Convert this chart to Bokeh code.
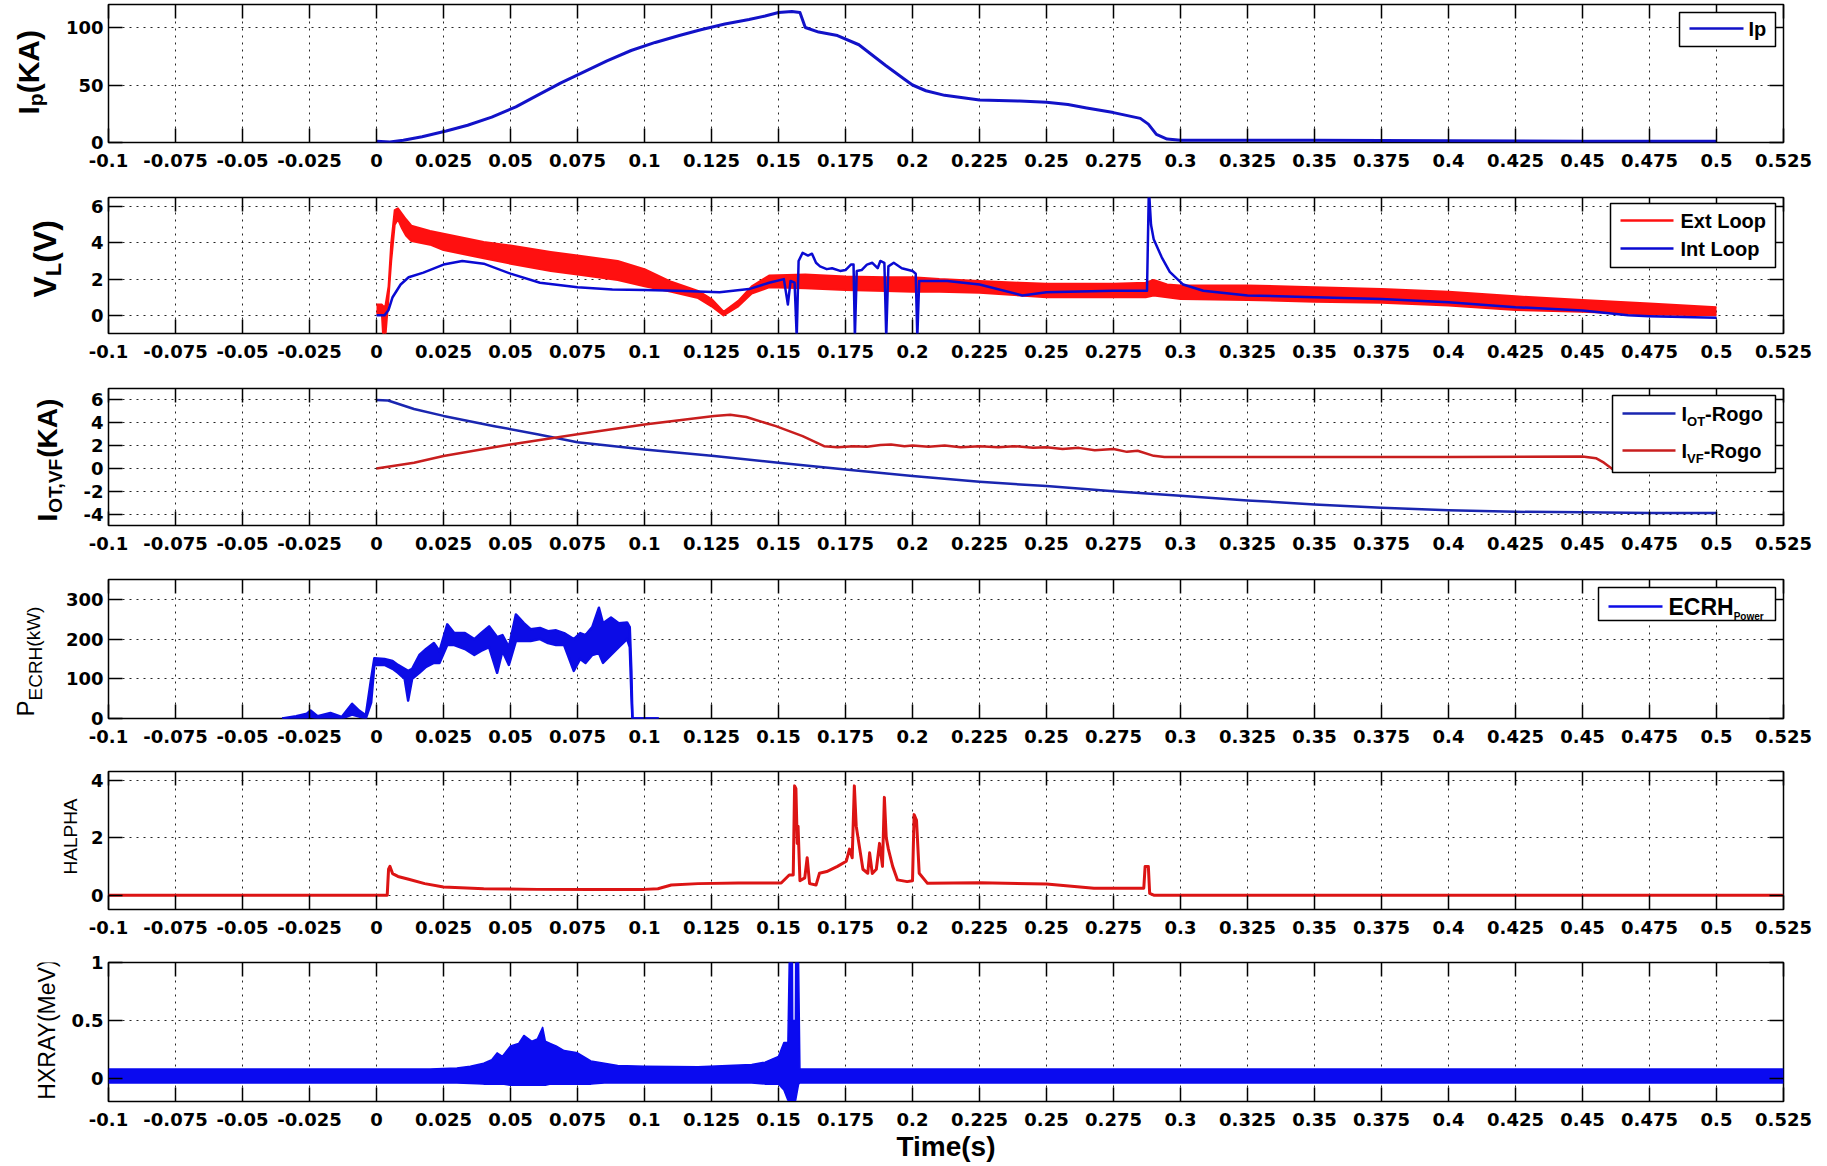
from math import pi

from bokeh.core.properties import value
from bokeh.embed import file_html
from bokeh.layouts import column, row
from bokeh.models import BoxAnnotation, FixedTicker, Grid, Label, LinearAxis, Range1d
from bokeh.plotting import figure
from bokeh.resources import INLINE

# ---------------------------------------------------------------- data
x_tick_labels = ["-0.1", "-0.075", "-0.05", "-0.025", "0", "0.025", "0.05", "0.075",
                 "0.1", "0.125", "0.15", "0.175", "0.2", "0.225", "0.25", "0.275",
                 "0.3", "0.325", "0.35", "0.375", "0.4", "0.425", "0.45", "0.475",
                 "0.5", "0.525"]

# plasma current Ip (kA)
ip_t = [0.000, 0.005, 0.010, 0.017, 0.026, 0.034, 0.043, 0.052, 0.060, 0.069,
        0.078, 0.086, 0.095, 0.104, 0.113, 0.121, 0.130, 0.139, 0.145, 0.150,
        0.155, 0.158, 0.160, 0.165, 0.172, 0.180, 0.190, 0.197, 0.200, 0.205,
        0.212, 0.225, 0.240, 0.250, 0.258, 0.265, 0.275, 0.285, 0.288, 0.291,
        0.295, 0.300, 0.350, 0.400, 0.450, 0.500]
ip_ka = [1, 0.5, 2, 5, 10, 15, 22, 31, 41, 52,
         62, 71, 80, 87, 93, 98, 103, 107, 110, 113,
         114, 113, 100, 96, 93, 85, 67, 55, 50, 45,
         41, 37, 36, 35, 33, 30, 26, 21, 16, 7,
         3, 2, 2, 1.5, 1, 1]
ip_ticks = ["0", "50", "100"]

# loop voltage, external loop: noisy band given by its lower/upper envelope (V)
ext_t = [0.000, 0.002, 0.0025, 0.0033, 0.0045, 0.0055, 0.0068, 0.008, 0.0095, 0.011,
         0.013, 0.020, 0.025, 0.040, 0.050, 0.065, 0.075, 0.090, 0.100, 0.110,
         0.120, 0.125, 0.1295, 0.135, 0.140, 0.1465, 0.160, 0.175, 0.190, 0.200,
         0.210, 0.225, 0.240, 0.250, 0.275, 0.287, 0.290, 0.295, 0.300, 0.325,
         0.350, 0.375, 0.400, 0.425, 0.450, 0.475, 0.500]
ext_lo = [0.1, 0.1, -1.2, -1.2, 1.0, 3.0, 5.0, 5.3, 4.8, 4.4,
          4.1, 3.9, 3.6, 3.15, 2.85, 2.45, 2.25, 1.95, 1.6, 1.3,
          0.95, 0.5, 0.0, 0.5, 1.2, 1.55, 1.5, 1.4, 1.35, 1.3,
          1.3, 1.25, 1.1, 1.0, 1.0, 1.0, 1.1, 1.0, 0.9, 0.85,
          0.75, 0.7, 0.55, 0.3, 0.2, 0.05, 0.0]
ext_hi = [0.6, 0.6, 0.5, 0.5, 1.6, 4.0, 5.8, 5.9, 5.6, 5.3,
          4.95, 4.65, 4.5, 4.05, 3.85, 3.5, 3.3, 3.0, 2.55, 1.85,
          1.35, 0.9, 0.2, 0.8, 1.6, 2.2, 2.25, 2.15, 2.1, 2.1,
          2.0, 1.9, 1.8, 1.75, 1.75, 1.8, 1.95, 1.7, 1.65, 1.65,
          1.55, 1.45, 1.3, 1.05, 0.85, 0.65, 0.45]

# loop voltage, internal loop (V)
int_t = [0.000, 0.003, 0.0045, 0.006, 0.009, 0.012, 0.0175, 0.025, 0.032, 0.040,
         0.050, 0.061, 0.075, 0.088, 0.100, 0.112, 0.128, 0.139, 0.1465, 0.152,
         0.1535, 0.1545, 0.156, 0.1568, 0.1575, 0.159, 0.161, 0.1625, 0.164, 0.1655,
         0.168, 0.170, 0.173, 0.175, 0.177, 0.178, 0.1785, 0.1792, 0.181, 0.183,
         0.185, 0.187, 0.188, 0.1895, 0.1902, 0.191, 0.193, 0.196, 0.200, 0.2012,
         0.2018, 0.2025, 0.213, 0.225, 0.241, 0.250, 0.275, 0.2875, 0.2882, 0.289,
         0.290, 0.293, 0.296, 0.301, 0.3085, 0.325, 0.350, 0.375, 0.400, 0.425,
         0.450, 0.467, 0.475, 0.500]
int_v = [0.0, 0.0, 0.3, 1.0, 1.7, 2.1, 2.36, 2.8, 3.0, 2.85,
         2.3, 1.8, 1.55, 1.42, 1.4, 1.36, 1.27, 1.45, 1.8, 2.0,
         0.6, 1.9, 1.8, -1.2, 3.0, 3.45, 3.3, 3.4, 2.9, 2.7,
         2.55, 2.6, 2.45, 2.5, 2.8, 2.8, -1.2, 2.45, 2.5, 2.8,
         2.9, 2.6, 3.0, 2.9, -1.2, 2.7, 2.9, 2.6, 2.45, 2.3,
         -1.2, 1.9, 1.9, 1.7, 1.1, 1.27, 1.36, 1.36, 7.0, 5.0,
         4.2, 3.2, 2.4, 1.7, 1.36, 1.1, 1.0, 0.9, 0.73, 0.45,
         0.27, 0.0, -0.05, -0.13]
vl_ticks = ["0", "2", "4", "6"]

# OT / VF coil currents from Rogowski coils (kA)
iot_t = [0.000, 0.0043, 0.014, 0.025, 0.044, 0.060, 0.075, 0.100, 0.126, 0.150,
         0.175, 0.200, 0.225, 0.250, 0.275, 0.300, 0.325, 0.350, 0.375, 0.400,
         0.425, 0.450, 0.475, 0.500]
iot_ka = [6.0, 5.95, 5.2, 4.6, 3.7, 3.0, 2.3, 1.65, 1.08, 0.5,
          -0.1, -0.67, -1.17, -1.55, -2.0, -2.4, -2.8, -3.15, -3.45, -3.67,
          -3.8, -3.85, -3.9, -3.9]
ivf_t = [0.000, 0.014, 0.025, 0.050, 0.075, 0.100, 0.126, 0.132, 0.138, 0.149,
         0.159, 0.167, 0.172, 0.178, 0.183, 0.188, 0.192, 0.197, 0.200, 0.206,
         0.212, 0.218, 0.225, 0.232, 0.238, 0.245, 0.250, 0.256, 0.262, 0.268,
         0.275, 0.280, 0.284, 0.290, 0.294, 0.323, 0.400, 0.450, 0.455, 0.458,
         0.462]
ivf_ka = [0.0, 0.5, 1.08, 2.1, 3.0, 3.85, 4.6, 4.7, 4.5, 3.7,
          2.83, 1.95, 1.85, 1.95, 1.9, 2.05, 2.1, 1.95, 2.0, 1.9,
          2.0, 1.85, 1.95, 1.85, 1.95, 1.8, 1.85, 1.7, 1.8, 1.6,
          1.7, 1.45, 1.55, 1.1, 1.0, 1.0, 1.0, 1.05, 0.9, 0.5,
          -0.2]
coil_ticks = ["-4", "-2", "0", "2", "4", "6"]

# ECRH power (kW): noisy trace given by its lower/upper envelope
ecrh_t = [-0.0352, -0.030, -0.026, -0.0246, -0.022, -0.0172, -0.013, -0.0091, -0.0065, -0.004,
          -0.002, -0.0008, 0.003, 0.006, 0.008, 0.0105, 0.0118, 0.0133, 0.016, 0.0185,
          0.0214, 0.0235, 0.0264, 0.029, 0.033, 0.0365, 0.039, 0.042, 0.045, 0.047,
          0.0494, 0.052, 0.055, 0.0575, 0.061, 0.064, 0.067, 0.070, 0.0736, 0.076,
          0.078, 0.0805, 0.083, 0.0845, 0.0875, 0.0904, 0.0935, 0.0945, 0.0951, 0.0955,
          0.1053]
ecrh_lo = [0, 0, 2, 5, 0, 2, 0, 10, 5, 0,
           40, 135, 135, 125, 115, 100, 45, 100, 115, 130,
           140, 140, 185, 185, 175, 160, 170, 180, 115, 170,
           135, 195, 195, 195, 200, 190, 185, 185, 120, 150,
           140, 160, 165, 140, 160, 180, 200, 180, 60, 0,
           0]
ecrh_hi = [0, 6, 12, 20, 6, 14, 4, 37, 20, 8,
           100, 152, 150, 145, 135, 125, 120, 125, 160, 175,
           190, 170, 237, 215, 215, 200, 215, 232, 205, 210,
           180, 262, 240, 225, 228, 220, 222, 215, 200, 215,
           210, 230, 279, 240, 254, 240, 242, 230, 120, 0,
           0]
ecrh_ticks = ["0", "100", "200", "300"]

# H-alpha emission (a.u.)
ha_t = [-0.100, 0.0040, 0.0045, 0.0050, 0.0060, 0.0080, 0.0120, 0.0180, 0.0250, 0.0400,
        0.0600, 0.0800, 0.1000, 0.1050, 0.1100, 0.1200, 0.1350, 0.1510, 0.1540, 0.1555,
        0.1560, 0.1565, 0.1570, 0.1573, 0.1580, 0.1598, 0.1607, 0.1616, 0.1640, 0.1653,
        0.1680, 0.1720, 0.1753, 0.1765, 0.1775, 0.1783, 0.1790, 0.1800, 0.1815, 0.1833,
        0.1840, 0.1850, 0.1865, 0.1877, 0.1888, 0.1895, 0.1902, 0.1910, 0.1926, 0.1944,
        0.1980, 0.2000, 0.2006, 0.2015, 0.2025, 0.2056, 0.2250, 0.2500, 0.2677, 0.2863,
        0.2868, 0.2880, 0.2885, 0.2900, 0.5250]
ha_v = [0.0, 0.0, 0.9, 1.0, 0.75, 0.65, 0.55, 0.4, 0.28, 0.22,
        0.2, 0.2, 0.2, 0.22, 0.35, 0.4, 0.42, 0.42, 0.7, 0.7,
        3.8, 3.7, 1.8, 2.4, 0.5, 0.6, 1.3, 0.4, 0.35, 0.76,
        0.82, 1.0, 1.18, 1.6, 1.3, 3.8, 2.4, 1.8, 0.9, 0.76,
        1.47, 0.75, 0.9, 1.8, 1.0, 3.4, 2.0, 1.6, 1.0, 0.53,
        0.47, 0.5, 2.8, 2.6, 0.76, 0.41, 0.43, 0.39, 0.24, 0.24,
        1.0, 1.0, 0.06, 0.0, 0.0]
ha_ticks = ["0", "2", "4"]

# hard X-ray signal: noisy band given by its lower/upper envelope (MeV)
hx_t = [-0.100, 0.020, 0.030, 0.035, 0.040, 0.043, 0.045, 0.047, 0.050, 0.053,
        0.055, 0.058, 0.060, 0.062, 0.063, 0.065, 0.067, 0.070, 0.075, 0.080,
        0.085, 0.090, 0.100, 0.120, 0.140, 0.145, 0.150, 0.152, 0.1535, 0.1540,
        0.1552, 0.1553, 0.1563, 0.1564, 0.1575, 0.1580, 0.160, 0.525]
hx_hi = [0.08, 0.08, 0.09, 0.105, 0.13, 0.16, 0.22, 0.19, 0.28, 0.30,
         0.37, 0.32, 0.34, 0.44, 0.32, 0.30, 0.28, 0.24, 0.22, 0.15,
         0.13, 0.11, 0.105, 0.10, 0.12, 0.14, 0.19, 0.31, 0.31, 1.0,
         1.0, 0.5, 0.5, 1.0, 1.0, 0.08, 0.08, 0.08]
hx_lo = [-0.04, -0.04, -0.04, -0.045, -0.05, -0.05, -0.05, -0.05, -0.06, -0.06,
         -0.06, -0.06, -0.06, -0.06, -0.06, -0.05, -0.05, -0.05, -0.05, -0.05,
         -0.04, -0.04, -0.04, -0.04, -0.04, -0.05, -0.05, -0.10, -0.19, -0.19,
         -0.19, -0.19, -0.19, -0.19, -0.05, -0.04, -0.04, -0.04]
hx_ticks = ["0", "0.5", "1"]

# ---------------------------------------------------------------- styling helpers
TEXT_FONT = "Liberation Sans"
TICK_FONT = "DejaVu Sans"
PAGE_W = 1827
FRAME_LEFT, BORDER_R = 108, 44
MID = 0.35  # distance from baseline to the middle of the em box, in em

# advance widths (1/1000 em) of the Arial-metric font, for placing rich labels
W_BOLD = {"I": 278, "p": 611, "(": 333, "K": 722, "A": 722, ")": 333, "V": 667, "L": 611,
          "O": 778, "T": 611, ",": 278, "F": 611, "-": 333, "R": 722, "o": 611, "g": 611,
          "E": 667, "x": 556, "t": 333, " ": 278, "n": 611, "C": 722, "H": 722, "P": 667,
          "w": 778, "e": 556, "r": 389, "i": 278, "m": 889, "s": 556}
W_REG = {"P": 667, "E": 667, "C": 722, "R": 722, "H": 722, "(": 333, "k": 500, "W": 944,
         ")": 333, "A": 667, "L": 556, "X": 667, "Y": 667, "M": 833, "e": 556, "V": 667,
         " ": 278}


def run_width(text, size, bold):
    table = W_BOLD if bold else W_REG
    return sum(table.get(c, 600) for c in text) * size / 1000.0


def tick_axis(ticks, labels, show, standoff=8):
    ax = LinearAxis(ticker=FixedTicker(ticks=ticks))
    ax.axis_line_color = None
    ax.major_tick_in = 14
    ax.major_tick_out = 0
    ax.major_tick_line_color = "black"
    ax.major_tick_line_width = 1.5
    ax.minor_tick_line_color = None
    if show:
        ax.major_label_overrides = dict(zip(ticks, labels))
        ax.major_label_text_font = TICK_FONT
        ax.major_label_text_font_size = "18px"
        ax.major_label_text_font_style = "bold"
        ax.major_label_text_color = "black"
        ax.major_label_standoff = standoff
    else:
        ax.major_label_text_font_size = "1px"
        ax.major_label_text_alpha = 0
        ax.major_label_standoff = 0
    return ax


def dotted_grid(dim, ticks):
    g = Grid(dimension=dim, ticker=FixedTicker(ticks=ticks))
    g.grid_line_color = "black"
    g.grid_line_dash = "2 5"
    g.grid_line_width = 1
    g.grid_line_alpha = 0.85
    return g


def label_strip(width, height, top, bottom, pieces, baseline_x, start_y):
    """Narrow figure left of a panel holding its rotated axis title.

    The strip has the same top/bottom borders as its panel, so its frame
    spans the panel's frame; data units are pixels measured from the frame's
    bottom-left corner.  pieces are (text, size, bold, drop) runs written
    bottom-to-top; drop > 0 moves a run to the right (subscript).  Each run
    is anchored at its own centre.
    """
    frame_h = height - top - bottom
    s = figure(width=width, height=height, output_backend="svg", toolbar_location=None,
               x_range=Range1d(0, width), y_range=Range1d(0, frame_h),
               x_axis_type=None, y_axis_type=None,
               min_border_left=0, min_border_right=0,
               min_border_top=top, min_border_bottom=bottom)
    s.outline_line_color = None
    s.background_fill_color = "white"
    s.border_fill_color = "white"
    pos = 0.0
    for text, size, bold, drop in pieces:
        w = run_width(text, size, bold)
        s.text(x=[baseline_x + drop - MID * size], y=[start_y + pos + w / 2], text=[text],
               angle=pi / 2, text_font=value(TEXT_FONT), text_font_size=value(f"{size}px"),
               text_font_style=value("bold" if bold else "normal"), text_color="black",
               text_align="center", text_baseline="middle")
        pos += w
    return s


def panel(width, height, left, top, bottom, y_start, y_end, y_labels):
    p = figure(width=width, height=height, output_backend="svg", toolbar_location=None,
               x_range=Range1d(-0.1, 0.525), y_range=Range1d(y_start, y_end),
               x_axis_type=None, y_axis_type=None,
               min_border_left=left, min_border_right=BORDER_R,
               min_border_top=top, min_border_bottom=bottom)
    p.background_fill_color = "white"
    p.border_fill_color = "white"
    p.outline_line_color = "black"
    p.outline_line_width = 1.5
    p.outline_line_alpha = 1.0
    xt = [float(s) for s in x_tick_labels]
    yt = [float(s) for s in y_labels]
    p.add_layout(tick_axis(xt, x_tick_labels, True, 11), "below")
    p.add_layout(tick_axis(xt, x_tick_labels, False), "above")
    p.add_layout(tick_axis(yt, y_labels, True, 5), "left")
    p.add_layout(tick_axis(yt, y_labels, False), "right")
    p.add_layout(dotted_grid(0, xt))
    p.add_layout(dotted_grid(1, yt))
    return p


def legend(p, box, swatch_x, items, text_x):
    left, right, bottom, top = box
    p.add_layout(BoxAnnotation(left=left, right=right, bottom=bottom, top=top,
                               left_units="screen", right_units="screen",
                               bottom_units="screen", top_units="screen",
                               fill_color="white", fill_alpha=1.0,
                               line_color="black", line_width=1.5, line_alpha=1.0))
    for y, color, pieces in items:
        p.add_layout(BoxAnnotation(left=swatch_x[0], right=swatch_x[1],
                                   bottom=y - 1.3, top=y + 1.3,
                                   left_units="screen", right_units="screen",
                                   bottom_units="screen", top_units="screen",
                                   fill_color=color, fill_alpha=1.0, line_color=None))
        base = y - 0.36 * pieces[0][1]
        pos = 0.0
        for text, size, bold, drop in pieces:
            p.add_layout(Label(x=text_x + pos, y=base - drop + MID * size,
                               x_units="screen", y_units="screen", text=text,
                               text_font=TEXT_FONT, text_font_size=f"{size}px",
                               text_font_style="bold" if bold else "normal",
                               text_color="black", text_align="left",
                               text_baseline="middle"))
            pos += run_width(text, size, bold)


def build_row(row_top, strip_w, height, top, bottom, y_start, y_end, y_labels,
              title, title_x, title_start):
    """title_x: baseline x of the rotated title; title_start: page y where it begins."""
    frame_bottom = row_top + height - bottom
    strip = label_strip(strip_w, height, top, bottom, title, title_x,
                        frame_bottom - title_start)
    p = panel(PAGE_W - strip_w, height, FRAME_LEFT - strip_w, top, bottom,
              y_start, y_end, y_labels)
    return strip, p


IP_BLUE = "#1212c8"
VL_RED = "#ff1010"
VL_BLUE = "#0a0ad2"
OT_BLUE = "#1a26b0"
VF_RED = "#c81e1e"
ECRH_BLUE = "#0c0ce6"
HA_RED = "#dc1414"
HX_BLUE = "#0a0af0"

# ---------------------------------------------------------------- panel 1: Ip
s1, p1 = build_row(0, 58, 190, 4, 48, 0, 120, ip_ticks,
                   [("I", 30, True, 0), ("p", 21, True, 4), ("(KA)", 30, True, 0)], 38, 114)
p1.line(ip_t, ip_ka, line_color=IP_BLUE, line_width=3, line_join="round")
legend(p1, (1571, 1667, 96, 130), (1581, 1635),
       [(114, IP_BLUE, [("Ip", 20, True, 0)])], 1640)

# ---------------------------------------------------------------- panel 2: loop voltage
s2, p2 = build_row(190, 82, 191, 7, 48, -1, 6.5, vl_ticks,
                   [("V", 32, True, 0), ("L", 22, True, 5), ("(V)", 32, True, 0)], 56, 297)
p2.varea(x=ext_t, y1=ext_lo, y2=ext_hi, fill_color=VL_RED)
p2.line(ext_t, ext_lo, line_color=VL_RED, line_width=2, line_join="round")
p2.line(ext_t, ext_hi, line_color=VL_RED, line_width=2, line_join="round")
p2.line(int_t, int_v, line_color=VL_BLUE, line_width=2.5, line_join="round")
legend(p2, (1502, 1667, 66, 130), (1512, 1565),
       [(113, VL_RED, [("Ext Loop", 20, True, 0)]),
        (85, VL_BLUE, [("Int Loop", 20, True, 0)])], 1572)

# ---------------------------------------------------------------- panel 3: coil currents
s3, p3 = build_row(381, 76, 191, 7, 47, -5, 7, coil_ticks,
                   [("I", 28, True, 0), ("OT,VF", 19, True, 5), ("(KA)", 28, True, 0)], 57, 521)
p3.line(iot_t, iot_ka, line_color=OT_BLUE, line_width=2.5, line_join="round")
p3.line(ivf_t, ivf_ka, line_color=VF_RED, line_width=2.5, line_join="round")
legend(p3, (1504, 1667, 53, 130), (1514, 1567),
       [(112, OT_BLUE, [("I", 20, True, 0), ("OT", 13, True, 5), ("-Rogo", 20, True, 0)]),
        (75, VF_RED, [("I", 20, True, 0), ("VF", 13, True, 5), ("-Rogo", 20, True, 0)])],
       1573)

# ---------------------------------------------------------------- panel 4: ECRH power
s4, p4 = build_row(572, 58, 192, 7, 46, 0, 350, ecrh_ticks,
                   [("P", 24, False, 0), ("ECRH", 19, False, 9), (" (kW)", 19, False, 7)], 33, 716)
p4.varea(x=ecrh_t, y1=ecrh_lo, y2=ecrh_hi, fill_color=ECRH_BLUE)
p4.line(ecrh_t, ecrh_lo, line_color=ECRH_BLUE, line_width=2.5, line_join="round")
p4.line(ecrh_t, ecrh_hi, line_color=ECRH_BLUE, line_width=2.5, line_join="round")
legend(p4, (1490, 1667, 98, 131), (1500, 1554),
       [(112, ECRH_BLUE, [("ECRH", 23, True, 0), ("Power", 10, True, 5)])], 1560)

# ---------------------------------------------------------------- panel 5: H-alpha
s5, p5 = build_row(764, 84, 187, 7, 42, -0.5, 4.3, ha_ticks,
                   [("HALPHA", 19, False, 0)], 77, 874)
p5.line(ha_t, ha_v, line_color=HA_RED, line_width=3, line_join="round")

# ---------------------------------------------------------------- panel 6: hard X-rays
s6, p6 = build_row(951, 64, 215, 11, 65, -0.2, 1, hx_ticks,
                   [("HXRAY(MeV)", 23, False, 0)], 55, 1100)
p6.varea(x=hx_t, y1=hx_lo, y2=hx_hi, fill_color=HX_BLUE)
p6.line(hx_t, hx_hi, line_color=HX_BLUE, line_width=1.5, line_join="round")
p6.line(hx_t, hx_lo, line_color=HX_BLUE, line_width=1.5, line_join="round")
time_axis = p6.below[0]
time_axis.axis_label = "Time(s)"
time_axis.axis_label_text_font = TEXT_FONT
time_axis.axis_label_text_font_size = "28px"
time_axis.axis_label_text_font_style = "bold"
time_axis.axis_label_text_color = "black"
time_axis.axis_label_standoff = 2

layout = column(row(s1, p1, spacing=0), row(s2, p2, spacing=0), row(s3, p3, spacing=0),
                row(s4, p4, spacing=0), row(s5, p5, spacing=0), row(s6, p6, spacing=0),
                spacing=0)
open("out.html", "w").write(file_html(layout, INLINE, title="Discharge diagnostics"))
